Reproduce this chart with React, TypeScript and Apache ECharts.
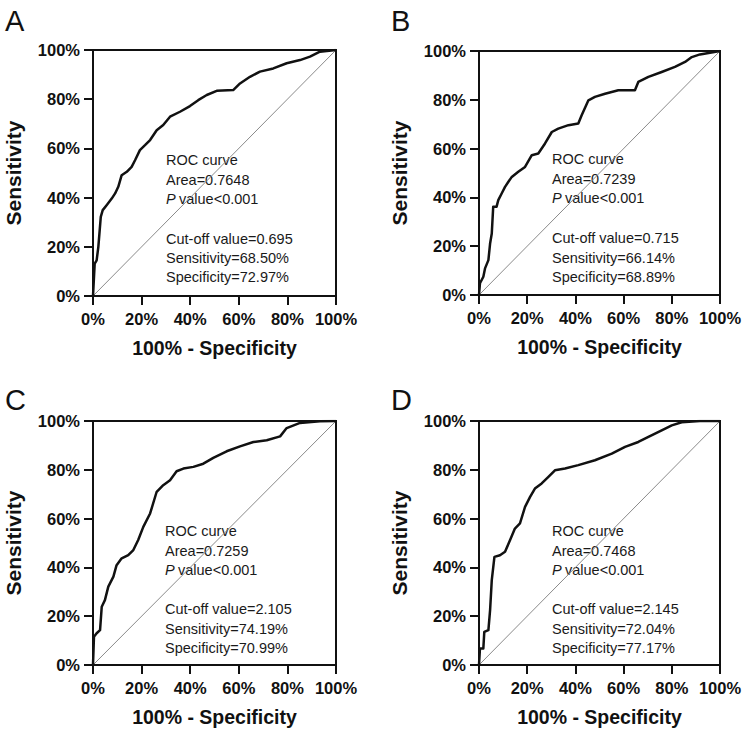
import React, { useEffect, useRef } from "react";
import * as echarts from "echarts";

// Panel A
const fprA = [0, 0.7, 1.5, 2.2, 3.2, 4.0, 5.6, 7.7, 9.1, 10.4, 11.8, 13.9, 15.9, 17.3, 19.3, 21.4, 23.5, 26.2, 28.9, 31.7, 35.8, 39.9, 43.3, 46.8, 50.9, 57.7, 60.5, 64.6, 68.7, 74.2, 79.7, 85.2, 89.3, 93.4, 100];
const tprA = [0, 13.2, 14.5, 20, 32.2, 34.9, 36.9, 39.6, 41.7, 44.4, 49.1, 50.5, 52.5, 55.2, 59.3, 61.3, 63.4, 67.4, 69.5, 72.9, 74.9, 77.2, 79.6, 81.7, 83.4, 83.7, 86.4, 89.1, 91.2, 92.5, 94.6, 95.9, 97.3, 99.3, 100];
// Panel B
const fprB = [0, 0.4, 1.8, 2.5, 3.9, 4.6, 5.3, 5.9, 7.3, 8.0, 9.4, 10.8, 12.2, 13.6, 16.3, 19.1, 21.9, 24.6, 27.4, 30.2, 32.9, 37.1, 41.2, 42.6, 45.4, 48.1, 52.3, 57.8, 64.7, 66.1, 70.3, 75.8, 81.3, 85.5, 88.3, 91.7, 100];
const tprB = [0, 4.8, 7.5, 10.9, 14.3, 21.1, 25.2, 36.2, 36.2, 38.9, 41.6, 44.3, 46.4, 48.4, 50.5, 52.5, 57.3, 58, 62.1, 66.8, 68.2, 69.6, 70.3, 73.7, 79.8, 81.2, 82.5, 83.9, 83.9, 87.3, 89.4, 91.4, 93.5, 95.5, 97.5, 98.6, 100];
// Panel C
const fprC = [0, 0.4, 1.5, 2.9, 3.6, 4.9, 6.3, 8.4, 9.7, 11.8, 14.5, 16.6, 18.6, 20.7, 23.5, 26.2, 28.9, 31.7, 34.4, 37.2, 41.3, 45.4, 49.5, 55, 60.5, 66, 71.5, 77, 79.7, 85.2, 93.4, 100];
const tprC = [0, 11.6, 13, 14.3, 23.9, 26.6, 32.1, 36.2, 40.9, 43.7, 45, 47.1, 51.2, 56.6, 62.1, 71, 73.7, 75.7, 79.4, 80.5, 81.2, 82.5, 84.9, 87.6, 89.6, 91.4, 92.1, 93.7, 97.1, 99.2, 99.9, 100];
// Panel D
const fprD = [0, 0.4, 1.8, 2.2, 3.9, 4.6, 5.3, 6.4, 8.7, 10.8, 12.9, 14.9, 17, 19.1, 21.2, 23.2, 26, 28.8, 31.5, 35.7, 41.2, 48.1, 55.1, 60.6, 66.1, 70.3, 75.8, 80, 84.1, 91.7, 100];
const tprD = [0, 6.8, 6.8, 13.6, 14.3, 22.5, 34.8, 44.3, 45, 46.4, 51.2, 55.9, 58, 64.8, 68.9, 72.3, 74.4, 77.1, 79.8, 80.5, 81.9, 83.9, 86.6, 89.4, 91.4, 93.5, 96.2, 98.2, 99.5, 100, 100];

const panelLetters = ["A", "B", "C", "D"];
const areas = ["0.7648", "0.7239", "0.7259", "0.7468"];
const cutoffs = ["0.695", "0.715", "2.105", "2.145"];
const sensitivities = ["68.50%", "66.14%", "74.19%", "72.04%"];
const specificities = ["72.97%", "68.89%", "70.99%", "77.17%"];
const tickValues = [0, 20, 40, 60, 80, 100];

const FONT = '"Liberation Sans", Arial, Helvetica, sans-serif';

const grids = [
  { left: 93, top: 50, width: 243, height: 246 },
  { left: 479, top: 51, width: 241, height: 244 },
  { left: 93, top: 421, width: 243, height: 244 },
  { left: 479, top: 421, width: 241, height: 244 },
];
const letterPos = [
  { x: 5, y: 21 },
  { x: 391, y: 21 },
  { x: 5, y: 400 },
  { x: 391, y: 400 },
];
const textPos = [
  { x: 166, ys: [160, 180, 199, 239, 258, 277] },
  { x: 552, ys: [159, 179, 198, 238, 258, 277] },
  { x: 165, ys: [531, 551, 570, 609, 629, 648] },
  { x: 552, ys: [531, 551, 570, 609, 629, 648] },
];

function zip(xs: number[], ys: number[]) {
  return xs.map((x, i) => [x, ys[i]]);
}

export default function App() {
  const ref = useRef<HTMLDivElement>(null);
  useEffect(() => {
    if (!ref.current) return;
    const chart = echarts.init(ref.current, null, { renderer: "svg" });
    const curves = [zip(fprA, tprA), zip(fprB, tprB), zip(fprC, tprC), zip(fprD, tprD)];

    const axisCommon = {
      type: "value" as const,
      min: 0,
      max: 100,
      interval: 20,
      splitLine: { show: false },
      axisLine: { show: true, lineStyle: { color: "#111", width: 2 } },
      axisTick: { show: true, length: 9, inside: false, lineStyle: { color: "#111", width: 2 } },
      axisLabel: {
        formatter: "{value}%",
        fontFamily: FONT,
        fontWeight: "bold" as const,
        fontSize: 16.5,
        color: "#111",
      },
      nameLocation: "middle" as const,
    };

    const graphic: any[] = [];
    panelLetters.forEach((L, i) => {
      graphic.push({
        type: "text",
        x: letterPos[i].x,
        y: letterPos[i].y,
        style: { text: L, font: `29px ${FONT}`, fill: "#111", verticalAlign: "middle" },
      });
      const tp = textPos[i];
      const lines = [
        "ROC curve",
        `Area=${areas[i]}`,
        null,
        `Cut-off value=${cutoffs[i]}`,
        `Sensitivity=${sensitivities[i]}`,
        `Specificity=${specificities[i]}`,
      ];
      lines.forEach((t, j) => {
        if (t === null) {
          graphic.push({
            type: "text",
            x: tp.x,
            y: tp.ys[j],
            style: { text: "P", font: `italic 14.5px ${FONT}`, fill: "#1a1a1a", verticalAlign: "middle" },
          });
          graphic.push({
            type: "text",
            x: tp.x + 13,
            y: tp.ys[j],
            style: { text: "value<0.001", font: `14.5px ${FONT}`, fill: "#1a1a1a", verticalAlign: "middle" },
          });
        } else {
          graphic.push({
            type: "text",
            x: tp.x,
            y: tp.ys[j],
            style: { text: t, font: `14.5px ${FONT}`, fill: "#1a1a1a", verticalAlign: "middle" },
          });
        }
      });
    });

    const series: any[] = [];
    curves.forEach((c, i) => {
      series.push({
        type: "line",
        xAxisIndex: i,
        yAxisIndex: i,
        data: [[tickValues[0], tickValues[0]], [tickValues[5], tickValues[5]]],
        symbol: "none",
        silent: true,
        lineStyle: { color: "#8a8a8a", width: 1 },
        z: 1,
      });
      series.push({
        type: "line",
        xAxisIndex: i,
        yAxisIndex: i,
        data: c,
        symbol: "none",
        silent: true,
        lineStyle: { color: "#111", width: 2.5, join: "round" },
        z: 3,
      });
    });

    chart.setOption({
      animation: false,
      backgroundColor: "#fff",
      grid: grids.map((g) => ({
        ...g,
        show: true,
        borderColor: "#111",
        borderWidth: 2,
        backgroundColor: "transparent",
      })),
      xAxis: grids.map((_, i) => ({
        ...axisCommon,
        gridIndex: i,
        name: "100% - Specificity",
        nameGap: 42,
        nameTextStyle: { fontFamily: FONT, fontWeight: "bold", fontSize: 19.5, color: "#111" },
        axisLabel: { ...axisCommon.axisLabel, margin: 14 },
      })),
      yAxis: grids.map((_, i) => ({
        ...axisCommon,
        gridIndex: i,
        name: "Sensitivity",
        nameGap: 69,
        nameTextStyle: { fontFamily: FONT, fontWeight: "bold", fontSize: 21, color: "#111" },
        axisLabel: { ...axisCommon.axisLabel, margin: 13 },
      })),
      series,
      graphic,
    });
    return () => chart.dispose();
  }, []);
  return (
    <div
      ref={ref}
      style={{ position: "absolute", left: 0, top: 0, width: 750, height: 737, background: "#fff" }}
    />
  );
}
